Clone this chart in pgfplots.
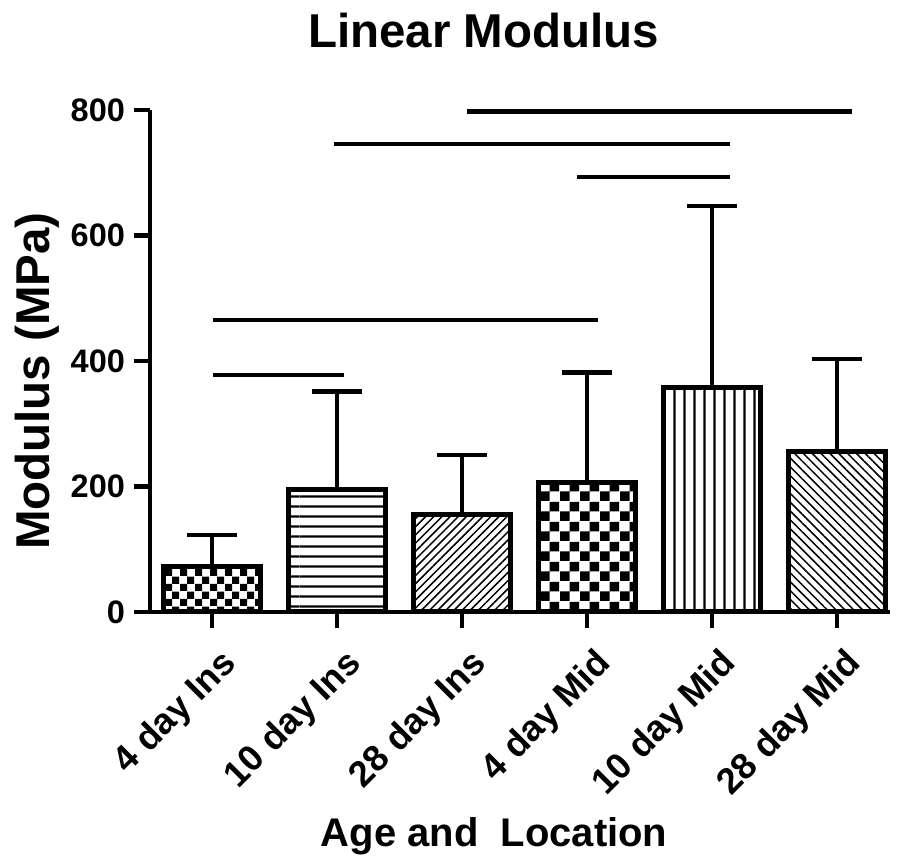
\documentclass[border=0pt]{standalone}
\usepackage{fontspec}
\setmainfont{Liberation Sans}
\usepackage{pgfplots}
\pgfplotsset{compat=1.18}
\usetikzlibrary{patterns,patterns.meta}

% checkerboards with two square sizes
\pgfdeclarepatternformonly{checkA}{\pgfpointorigin}{\pgfqpoint{6pt}{6pt}}{\pgfqpoint{6pt}{6pt}}{%
  \pgfpathrectangle{\pgfpointorigin}{\pgfqpoint{3pt}{3pt}}%
  \pgfpathrectangle{\pgfqpoint{3pt}{3pt}}{\pgfqpoint{3pt}{3pt}}%
  \pgfusepath{fill}}
\pgfdeclarepatternformonly{checkB}{\pgfpointorigin}{\pgfqpoint{8pt}{8pt}}{\pgfqpoint{8pt}{8pt}}{%
  \pgfpathrectangle{\pgfpointorigin}{\pgfqpoint{4pt}{4pt}}%
  \pgfpathrectangle{\pgfqpoint{4pt}{4pt}}{\pgfqpoint{4pt}{4pt}}%
  \pgfusepath{fill}}
% solid stripes, long tiles
\pgfdeclarepatternformonly{hstripes}{\pgfpointorigin}{\pgfqpoint{60pt}{4pt}}{\pgfqpoint{60pt}{4pt}}{%
  \pgfpathrectangle{\pgfqpoint{0pt}{1.5pt}}{\pgfqpoint{60pt}{1pt}}%
  \pgfusepath{fill}}
\pgfdeclarepatternformonly{vstripes}{\pgfpointorigin}{\pgfqpoint{4pt}{120pt}}{\pgfqpoint{4pt}{120pt}}{%
  \pgfpathrectangle{\pgfqpoint{1.5pt}{0pt}}{\pgfqpoint{1pt}{120pt}}%
  \pgfusepath{fill}}

\pgfplotsset{
  mybar/.style={ybar, bar width=0.78, bar shift=0pt, draw=black, line width=2pt,
    error bars/y dir=plus, error bars/y explicit,
    error bars/error bar style={line width=1.8pt, black},
    error bars/error mark options={rotate=90, line width=1.8pt, mark size=10pt, black}},
  sigline/.style={black, line width=1.8pt, no marks, forget plot},
}

\begin{document}
\begin{tikzpicture}
\path[use as bounding box] (-60pt,-99.6pt) rectangle (299.2pt,244.8pt);
\begin{axis}[
    at={(0pt,0pt)}, anchor=south west,
    scale only axis,
    width=296pt, height=200.8pt,
    xmin=-0.496, xmax=5.424,
    ymin=0, ymax=800,
    clip=false,
    axis lines=left,
    axis line style={-, line width=1.8pt},
    tick align=outside,
    major tick length=6.5pt,
    tick style={line width=1.8pt, black},
    ytick={0,200,400,600,800},
    xtick={0,1,2,3,4,5},
    xticklabels={4 day Ins, 10 day Ins, 28 day Ins, 4 day Mid, 10 day Mid, 28 day Mid},
    yticklabel style={font=\bfseries\fontsize{13}{13}\selectfont, /pgf/number format/assume math mode=true},
    xticklabel style={font=\bfseries\fontsize{14.5}{14.5}\selectfont, rotate=45, anchor=north east, inner sep=1pt, xshift=-2pt, yshift=-6pt},
    title={Linear Modulus},
    title style={font=\bfseries\fontsize{19}{19}\selectfont, at={(axis description cs:0.451,1)}, anchor=base, yshift=19pt},
    xlabel={Age and\ \ Location},
    xlabel style={font=\bfseries\fontsize{16}{16}\selectfont, at={(axis description cs:0.465,0)}, anchor=base, yshift=-94pt},
    ylabel={Modulus (MPa)},
    ylabel style={font=\bfseries\fontsize{19}{19}\selectfont, at={(axis description cs:-0.152,0.46)}, anchor=center, rotate=0},
]
\addplot[mybar, pattern=checkA] coordinates {(0,72) +- (0,51)};
\addplot[mybar, pattern=hstripes] coordinates {(1,196) +- (0,155)};
\addplot[mybar, pattern={Lines[angle=45,distance=2.3pt,line width=0.6pt]}] coordinates {(2,155) +- (0,95)};
\addplot[mybar, pattern=checkB] coordinates {(3,207) +- (0,175)};
\addplot[mybar, pattern=vstripes] coordinates {(4,357) +- (0,290)};
\addplot[mybar, pattern={Lines[angle=-45,distance=2.5pt,line width=0.6pt]}] coordinates {(5,255) +- (0,148)};

% significance bars
\addplot[sigline] coordinates {(0.01,378) (1.06,378)};
\addplot[sigline] coordinates {(0.01,465) (3.09,465)};
\addplot[sigline] coordinates {(2.92,693) (4.14,693)};
\addplot[sigline] coordinates {(0.98,746) (4.14,746)};
\addplot[sigline] coordinates {(2.04,798) (5.12,798)};
\end{axis}
\end{tikzpicture}
\end{document}
